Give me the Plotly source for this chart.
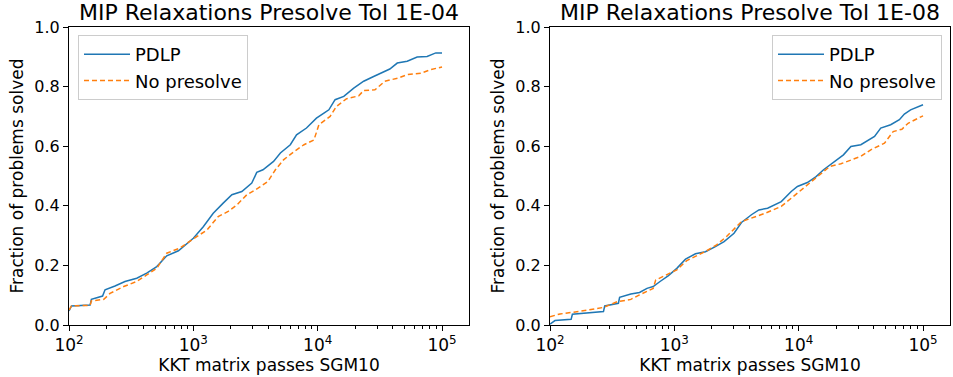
import plotly.graph_objects as go

# ---- data (log10 of KKT passes, fraction solved) ----
left_pdlp_logx = [2.0, 2.02, 2.17, 2.18, 2.27, 2.29, 2.37, 2.45, 2.545, 2.625, 2.706, 2.786, 2.88, 2.947,
                  3.0, 3.08, 3.16, 3.24, 3.31, 3.39, 3.47, 3.51, 3.56, 3.645, 3.70, 3.78, 3.83, 3.91,
                  3.99, 4.05, 4.09, 4.14, 4.21, 4.29, 4.37, 4.45, 4.58, 4.64, 4.72, 4.80, 4.88, 4.95, 5.0]
left_pdlp_y = [0.047, 0.064, 0.067, 0.086, 0.097, 0.118, 0.131, 0.146, 0.157, 0.174, 0.196, 0.232, 0.249, 0.274,
               0.291, 0.330, 0.375, 0.409, 0.437, 0.448, 0.476, 0.512, 0.521, 0.549, 0.577, 0.605, 0.638, 0.661,
               0.694, 0.711, 0.722, 0.756, 0.767, 0.795, 0.818, 0.834, 0.859, 0.879, 0.885, 0.899, 0.901, 0.913, 0.913]

left_nop_logx = [2.0, 2.02, 2.17, 2.18, 2.28, 2.33, 2.44, 2.545, 2.625, 2.706, 2.786, 2.89, 3.0, 3.11,
                 3.20, 3.28, 3.35, 3.43, 3.52, 3.60, 3.66, 3.725, 3.81, 3.89, 3.97, 4.01, 4.10, 4.15,
                 4.23, 4.33, 4.37, 4.46, 4.54, 4.65, 4.72, 4.83, 4.91, 5.0]
left_nop_y = [0.050, 0.064, 0.066, 0.081, 0.086, 0.106, 0.129, 0.146, 0.168, 0.190, 0.241, 0.258, 0.289, 0.319,
              0.364, 0.381, 0.403, 0.437, 0.459, 0.482, 0.521, 0.554, 0.582, 0.605, 0.621, 0.672, 0.700, 0.733,
              0.759, 0.769, 0.787, 0.789, 0.818, 0.829, 0.840, 0.845, 0.857, 0.866]

right_pdlp_logx = [2.0, 2.04, 2.17, 2.18, 2.43, 2.44, 2.55, 2.56, 2.65, 2.72, 2.78, 2.83, 2.885, 2.95,
                   3.02, 3.09, 3.17, 3.25, 3.33, 3.40, 3.48, 3.54, 3.62, 3.68, 3.75, 3.81, 3.86, 3.94,
                   3.99, 4.07, 4.14, 4.20, 4.27, 4.31, 4.36, 4.42, 4.50, 4.61, 4.66, 4.74, 4.81, 4.85,
                   4.90, 5.0]
right_pdlp_y = [0.003, 0.015, 0.019, 0.036, 0.045, 0.064, 0.073, 0.093, 0.104, 0.109, 0.123, 0.129, 0.146, 0.165,
                0.190, 0.221, 0.239, 0.246, 0.263, 0.280, 0.308, 0.344, 0.370, 0.386, 0.392, 0.403, 0.414, 0.448,
                0.465, 0.478, 0.498, 0.521, 0.543, 0.554, 0.571, 0.599, 0.605, 0.633, 0.661, 0.672, 0.689, 0.708,
                0.722, 0.739]

right_nop_logx = [2.0, 2.08, 2.19, 2.43, 2.54, 2.65, 2.72, 2.83, 2.85, 2.94, 3.02, 3.10, 3.18, 3.26,
                  3.34, 3.42, 3.54, 3.64, 3.73, 3.86, 3.94, 4.04, 4.12, 4.25, 4.34, 4.50, 4.58, 4.69,
                  4.76, 4.83, 4.88, 5.0]
right_nop_y = [0.028, 0.037, 0.043, 0.059, 0.078, 0.086, 0.101, 0.123, 0.151, 0.168, 0.185, 0.216, 0.232, 0.249,
               0.269, 0.297, 0.347, 0.362, 0.375, 0.398, 0.426, 0.459, 0.487, 0.532, 0.541, 0.566, 0.588, 0.610,
               0.649, 0.657, 0.677, 0.702]

titles = ["MIP Relaxations Presolve Tol 1E-04", "MIP Relaxations Presolve Tol 1E-08"]
series_names = ["PDLP", "No presolve"]
x_label = "KKT matrix passes SGM10"
y_label = "Fraction of problems solved"
y_ticks = [0.0, 0.2, 0.4, 0.6, 0.8, 1.0]
x_tick_exps = [2, 3, 4, 5]

BLUE = "#1f77b4"
ORANGE = "#ff7f0e"
FONT = "DejaVu Sans"

W, H = 953, 377
ML, MR, MT, MB = 69, 953 - 950, 27, 377 - 325
PW = W - ML - MR
PH = H - MT - MB
ax_left = [0, 400 / PW]
ax_right = [(550 - 69) / PW, 1]


def pw(lx):
    return [10 ** v for v in lx]


fig = go.Figure()
fig.add_trace(go.Scatter(x=pw(left_pdlp_logx), y=left_pdlp_y, mode="lines",
                         line=dict(color=BLUE, width=1.5), name=series_names[0],
                         xaxis="x", yaxis="y", legend="legend"))
fig.add_trace(go.Scatter(x=pw(left_nop_logx), y=left_nop_y, mode="lines",
                         line=dict(color=ORANGE, width=1.5, dash="5px,3px"), name=series_names[1],
                         xaxis="x", yaxis="y", legend="legend"))
fig.add_trace(go.Scatter(x=pw(right_pdlp_logx), y=right_pdlp_y, mode="lines",
                         line=dict(color=BLUE, width=1.5), name=series_names[0],
                         xaxis="x2", yaxis="y2", legend="legend2"))
fig.add_trace(go.Scatter(x=pw(right_nop_logx), y=right_nop_y, mode="lines",
                         line=dict(color=ORANGE, width=1.5, dash="5px,3px"), name=series_names[1],
                         xaxis="x2", yaxis="y2", legend="legend2"))

minor_vals = [m * 10 ** e for e in range(2, 6) for m in range(2, 10)]

xaxis_common = dict(type="log", range=[2, 5.217], automargin=False,
                    tickvals=[10 ** e for e in x_tick_exps],
                    ticktext=[f"10<sup>{e}</sup>" for e in x_tick_exps],
                    showgrid=False, zeroline=False, showline=True, linecolor="black", linewidth=1,
                    mirror=True, ticks="outside", ticklen=5, tickcolor="black",
                    tickfont=dict(family=FONT, size=17, color="black"),
                    minor=dict(tickvals=minor_vals, ticks="outside", ticklen=3, tickcolor="black",
                               showgrid=False),
                    title=dict(text=x_label, font=dict(family=FONT, size=17, color="black"), standoff=4))
yaxis_common = dict(range=[0, 1], automargin=False, tickvals=y_ticks,
                    ticktext=[f"{v:.1f}" for v in y_ticks],
                    showgrid=False, zeroline=False, showline=True, linecolor="black", linewidth=1,
                    mirror=True, ticks="outside", ticklen=5, tickcolor="black",
                    tickfont=dict(family=FONT, size=16, color="black"),
                    title=dict(text=y_label, font=dict(family=FONT, size=17, color="black"), standoff=6))

legend_style = dict(bgcolor="rgba(255,255,255,0.8)", bordercolor="#cccccc", borderwidth=1,
                    font=dict(family=FONT, size=18, color="black"), tracegroupgap=0, itemwidth=46)

fig.update_layout(
    width=W, height=H,
    margin=dict(l=ML, r=MR, t=MT, b=MB, autoexpand=False),
    paper_bgcolor="white", plot_bgcolor="white",
    font=dict(family=FONT, color="black"),
    xaxis=dict(domain=ax_left, anchor="y", **xaxis_common),
    yaxis=dict(domain=[0, 1], anchor="x", **yaxis_common),
    xaxis2=dict(domain=ax_right, anchor="y2", **xaxis_common),
    yaxis2=dict(domain=[0, 1], anchor="x2", **yaxis_common),
    legend=dict(x=(78 - 69) / PW, y=1 - 8 / PH, xanchor="left", yanchor="top", **legend_style),
    legend2=dict(x=(942 - 69) / PW, y=1 - 8 / PH, xanchor="right", yanchor="top", **legend_style),
    annotations=[
        dict(text=titles[0], x=(ax_left[0] + ax_left[1]) / 2, y=1, xref="paper", yref="paper",
             xanchor="center", yanchor="bottom", yshift=0, showarrow=False,
             font=dict(family=FONT, size=22, color="black")),
        dict(text=titles[1], x=(ax_right[0] + ax_right[1]) / 2, y=1, xref="paper", yref="paper",
             xanchor="center", yanchor="bottom", yshift=0, showarrow=False,
             font=dict(family=FONT, size=22, color="black")),
    ],
)

fig.write_html("out.html", config={"displayModeBar": False},
               post_script="document.body.style.margin='0';document.body.style.overflow='hidden';")
